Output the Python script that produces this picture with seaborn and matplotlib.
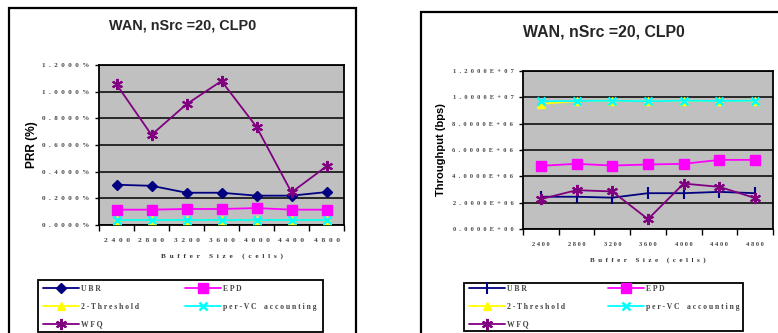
import matplotlib
matplotlib.use("Agg")
import matplotlib.pyplot as plt
from matplotlib.patches import Rectangle
from matplotlib.lines import Line2D
from matplotlib.ticker import FixedLocator, NullFormatter, FixedFormatter
import seaborn as sns
import numpy as np

# Buffer sizes (cells)
buffer_sizes = ["2400", "2800", "3200", "3600", "4000", "4400", "4800"]

# Packet retransmission rate (%)
prr_ubr = [0.302, 0.294, 0.242, 0.242, 0.220, 0.220, 0.247]
prr_epd = [0.115, 0.115, 0.120, 0.120, 0.127, 0.115, 0.115]
prr_2thr = [0.035, 0.035, 0.035, 0.035, 0.035, 0.035, 0.035]
prr_pervc = [0.040, 0.040, 0.040, 0.040, 0.040, 0.040, 0.040]
prr_wfq = [1.055, 0.676, 0.906, 1.080, 0.736, 0.245, 0.440]

# Throughput (bps)
thr_ubr = [2.45e6, 2.45e6, 2.38e6, 2.72e6, 2.72e6, 2.82e6, 2.72e6]
thr_epd = [4.80e6, 4.95e6, 4.82e6, 4.90e6, 4.95e6, 5.25e6, 5.25e6]
thr_2thr = [9.50e6, 9.72e6, 9.75e6, 9.70e6, 9.75e6, 9.72e6, 9.75e6]
thr_pervc = [9.70e6, 9.72e6, 9.75e6, 9.70e6, 9.75e6, 9.72e6, 9.75e6]
thr_wfq = [2.27e6, 2.95e6, 2.85e6, 0.75e6, 3.45e6, 3.20e6, 2.35e6]

prr_ticks = [0.0, 0.2, 0.4, 0.6, 0.8, 1.0, 1.2]
prr_ticklabels = ["0.0000%", "0.2000%", "0.4000%", "0.6000%", "0.8000%", "1.0000%", "1.2000%"]
thr_ticks = [0, 2e6, 4e6, 6e6, 8e6, 1e7, 1.2e7]
thr_ticklabels = ["0.0000E+00", "2.0000E+06", "4.0000E+06", "6.0000E+06",
                  "8.0000E+06", "1.0000E+07", "1.2000E+07"]

series_names = ["UBR", "EPD", "2-Threshold", "per-VC accounting", "WFQ"]
colors = ["#000080", "#FF00FF", "#FFFF00", "#00FFFF", "#800080"]
asterisk = (6, 2, 0)

sns.set_theme(style="white")
plt.rcParams["font.family"] = ["Liberation Sans", "DejaVu Sans"]

W, H = 778, 333
fig = plt.figure(figsize=(W / 100, H / 100), dpi=100)
fig.patch.set_facecolor("white")


def box(x0, y0, x1, y1):
    """Axes rectangle from pixel corners (top-left origin)."""
    return [x0 / W, (H - y1) / H, (x1 - x0) / W, (y1 - y0) / H]


def fx(x):
    return x / W


def fy(y):
    return (H - y) / H


def spaced(s, gap=" ", word_gap="     "):
    return word_gap.join(gap.join(w) for w in s.split(" "))


def frame(x0, y0, x1, y1, lw=1.6):
    fig.add_artist(Rectangle((fx(x0), fy(y1)), (x1 - x0) / W, (y1 - y0) / H,
                             transform=fig.transFigure, fill=False,
                             edgecolor="black", linewidth=lw, clip_on=False))


def style_axes(ax, yticks, yticklabels, ylim, ylabel, ylabel_size,
               xt_size, xt_gap, yt_size, yt_gap, xl_size):
    n = len(buffer_sizes)
    xfont = dict(family="Liberation Serif", size=xt_size, color="#444444", weight="bold")
    yfont = dict(family="Liberation Serif", size=yt_size, color="#444444", weight="bold")
    ax.set_facecolor("#C0C0C0")
    ax.set_xlim(-0.5, n - 0.5)
    ax.set_ylim(*ylim)
    ax.xaxis.set_major_locator(FixedLocator(np.arange(n + 1) - 0.5))
    ax.xaxis.set_major_formatter(NullFormatter())
    ax.xaxis.set_minor_locator(FixedLocator(np.arange(n)))
    ax.xaxis.set_minor_formatter(FixedFormatter([spaced(b, xt_gap) for b in buffer_sizes]))
    ax.tick_params(axis="x", which="major", length=4, width=1, color="black",
                   direction="out", bottom=True)
    ax.tick_params(axis="x", which="minor", length=0, pad=9)
    for lab in ax.xaxis.get_minorticklabels():
        lab.set(**xfont)
    ax.set_yticks(yticks)
    ax.set_yticklabels([spaced(t, yt_gap) for t in yticklabels], **yfont)
    ax.tick_params(axis="y", length=3, width=1, color="black", direction="out",
                   left=True, pad=4)
    ax.grid(axis="y", color="black", linewidth=1.1)
    ax.grid(axis="x", visible=False)
    for sp in ax.spines.values():
        sp.set_visible(True)
        sp.set_color("black")
        sp.set_linewidth(1.3)
    ax.set_xlabel(spaced("Buffer Size (cells)", "  ", "     "),
                  family="Liberation Serif", size=xl_size, weight="bold", color="#333333",
                  labelpad=8)
    ax.set_ylabel(ylabel, size=ylabel_size, weight="bold", color="black")


def draw(ax, series, markers, sizes, mews):
    x = np.arange(len(buffer_sizes))
    for vals, c, m, s, mew in zip(series, colors, markers, sizes, mews):
        sns.lineplot(x=x, y=vals, ax=ax, color=c, marker=m, markersize=s,
                     markeredgecolor=c, markerfacecolor=c, markeredgewidth=mew,
                     linewidth=1.3, zorder=3, legend=False)


def legend(markers, sizes, mews, frame_box, col_x, row_top):
    """Two-column legend inside a black frame; each column placed on its own."""
    handles = [Line2D([], [], color=c, marker=m, markersize=s, markeredgewidth=mew,
                      markerfacecolor=c, markeredgecolor=c, linewidth=1.3)
               for c, m, s, mew in zip(colors, markers, sizes, mews)]
    labels = [spaced(n, " ", "    ") for n in series_names]
    frame(*frame_box, lw=1.3)
    for idx, x in zip(([0, 2, 4], [1, 3]), col_x):
        leg = fig.legend([handles[i] for i in idx], [labels[i] for i in idx],
                         loc="upper left", bbox_to_anchor=(fx(x), fy(row_top)),
                         bbox_transform=fig.transFigure,
                         prop=dict(family="Liberation Serif", size=5.5, weight="bold"),
                         handlelength=4.7, handletextpad=0.3, borderpad=0,
                         labelspacing=1.27, frameon=False, borderaxespad=0)
        for t in leg.get_texts():
            t.set_color("#444444")


# Left panel: packet retransmission rate
frame(9, 8, 356, 345)
ax1 = fig.add_axes(box(99, 65, 344, 225))
m1 = ["D", "s", "^", "x", asterisk]
s1 = [5, 7, 6, 6, 8]
w1 = [1, 1, 1, 1.8, 1.5]
draw(ax1, [prr_ubr, prr_epd, prr_2thr, prr_pervc, prr_wfq], m1, s1, w1)
style_axes(ax1, prr_ticks, prr_ticklabels, (0, 1.2), "PRR (%)", 8.6,
           xt_size=5.3, xt_gap="  ", yt_size=5, yt_gap="  ", xl_size=5.2)
ax1.yaxis.set_label_coords(-0.25, 0.5)
fig.text(183 / W, 1 - 26 / H, "WAN, nSrc =20, CLP0", ha="center", va="center",
         size=10.4, weight="bold")
legend(m1, s1, w1, (38, 280, 323, 332), (43, 185), 285)

# Right panel: throughput
frame(421, 12, 790, 345)
ax2 = fig.add_axes(box(523, 71, 773, 229))
m2 = ["|", "s", "^", "x", asterisk]
s2 = [8, 7, 6, 6, 8]
w2 = [1.5, 1, 1, 1.8, 1.5]
draw(ax2, [thr_ubr, thr_epd, thr_2thr, thr_pervc, thr_wfq], m2, s2, w2)
style_axes(ax2, thr_ticks, thr_ticklabels, (0, 1.2e7), "Throughput (bps)", 8,
           xt_size=4.6, xt_gap=" ", yt_size=4.6, yt_gap="  ", xl_size=5)
ax2.yaxis.set_label_coords(-0.31, 0.5)
fig.text(604 / W, 1 - 32 / H, "WAN, nSrc =20, CLP0", ha="center", va="center",
         size=11.4, weight="bold")
legend(m2, s2, w2, (464, 283, 743, 331), (469, 608), 285)

fig.savefig("out.png", dpi=100, facecolor="white")
